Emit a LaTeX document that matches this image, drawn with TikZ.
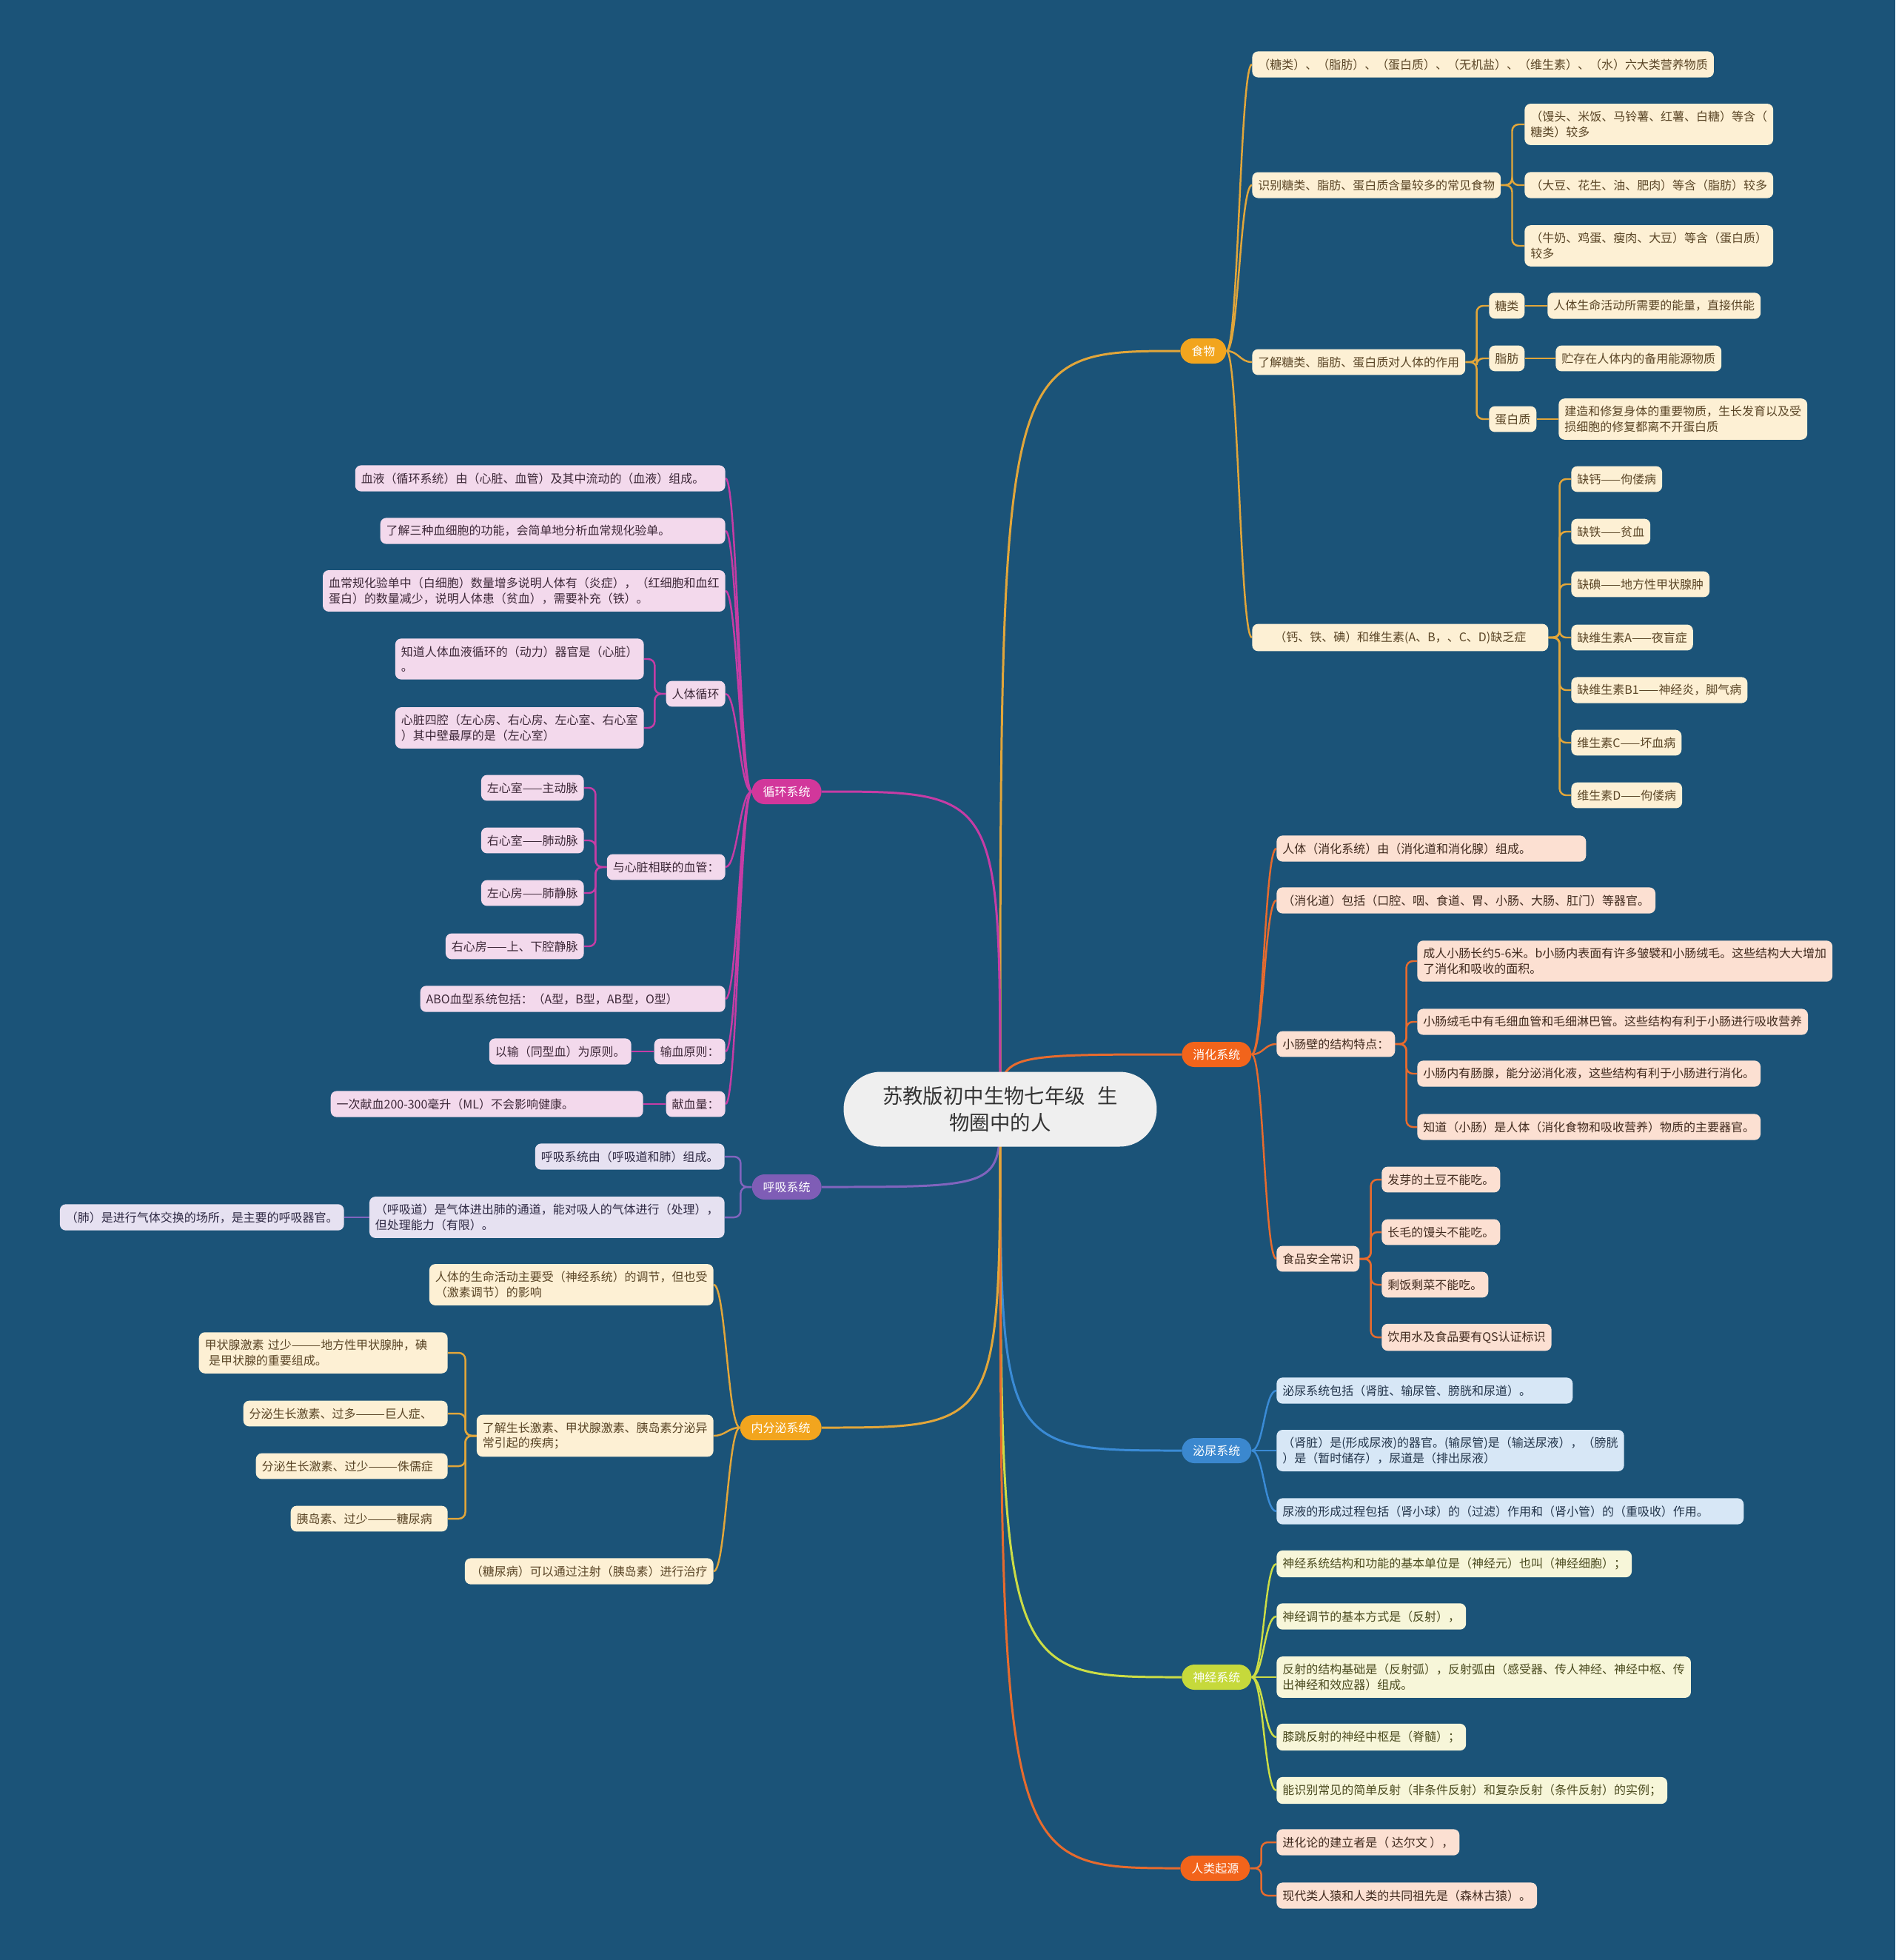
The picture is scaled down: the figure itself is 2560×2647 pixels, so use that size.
\documentclass[tikz,border=0pt]{standalone}
\usepackage{fontspec}
\setmainfont{Noto Sans CJK SC}
\usepackage{xcolor}
\usepackage{tikz}
\pgfdeclarelayer{back}
\pgfdeclarelayer{bg}
\pgfsetlayers{back,bg,main}

\definecolor{bgblue}{HTML}{1B5378}
\definecolor{rootfill}{HTML}{EFEFEF}
\definecolor{roottext}{HTML}{333333}
\definecolor{fdpill}{HTML}{F2A51E}
\definecolor{fdline}{HTML}{E2A63A}
\definecolor{fdfill}{HTML}{FDF0D4}
\definecolor{fdtext}{HTML}{5A4526}
\definecolor{dgpill}{HTML}{F2641B}
\definecolor{dgline}{HTML}{E76B2E}
\definecolor{dgfill}{HTML}{FCE0D2}
\definecolor{dgtext}{HTML}{402A1E}
\definecolor{urpill}{HTML}{3B88CF}
\definecolor{urline}{HTML}{3A8BD6}
\definecolor{urfill}{HTML}{D7E7F6}
\definecolor{urtext}{HTML}{22344A}
\definecolor{nvpill}{HTML}{C6D93B}
\definecolor{nvline}{HTML}{CCDD45}
\definecolor{nvfill}{HTML}{F7F6D9}
\definecolor{nvtext}{HTML}{4A4A1E}
\definecolor{cspill}{HTML}{D2379B}
\definecolor{csline}{HTML}{C63CA5}
\definecolor{csfill}{HTML}{F3D9EC}
\definecolor{cstext}{HTML}{3D2838}
\definecolor{rspill}{HTML}{7F5DB6}
\definecolor{rsline}{HTML}{8164BE}
\definecolor{rsfill}{HTML}{E6E1F1}
\definecolor{rstext}{HTML}{2F2A44}

\begin{document}
\begin{tikzpicture}[x=0.02cm, y=-0.02cm,
    every node/.style={font=\fontsize{9.1pt}{11.7pt}\selectfont},
    leaf/.style={rounded corners=0.16cm, inner xsep=0.16cm, inner ysep=0.2cm, align=left},
    rleaf/.style={leaf, anchor=west},
    lleaf/.style={leaf, anchor=east},
    pill/.style={rounded corners=0.34cm, minimum height=0.68cm, inner xsep=0.3cm, text=white},
    rootbox/.style={fill=rootfill, text=roottext, rounded corners=1cm, minimum width=8.46cm,
        minimum height=2.02cm, align=center, font=\fontsize{15.6pt}{20.9pt}\selectfont},
    fdbox/.style={fill=fdfill, text=fdtext},
    dgbox/.style={fill=dgfill, text=dgtext},
    urbox/.style={fill=urfill, text=urtext},
    nvbox/.style={fill=nvfill, text=nvtext},
    csbox/.style={fill=csfill, text=cstext},
    rsbox/.style={fill=rsfill, text=rstext},
    rootln/.style={line width=1.7pt},
    fdln/.style={draw=fdline, line width=1.4pt},
    dgln/.style={draw=dgline, line width=1.4pt},
    urln/.style={draw=urline, line width=1.4pt},
    nvln/.style={draw=nvline, line width=1.4pt},
    csln/.style={draw=csline, line width=1.4pt},
    rsln/.style={draw=rsline, line width=1.4pt},
    brk/.style={rounded corners=5pt}]

    \begin{pgfonlayer}{back}
    \fill[bgblue] (0,0) rectangle (2560,2647);
    \end{pgfonlayer}

    \node[rootbox] (root) at (1351,1498) {苏教版初中生物七年级\hspace{0.6em}生\\物圈中的人};

    % right side
    \node[pill, fill=fdpill, anchor=west] (fd) at (1594,474) {食物};
    \node[pill, fill=dgpill, anchor=west] (dg) at (1596,1424) {消化系统};
    \node[pill, fill=urpill, anchor=west] (ur) at (1596,1959) {泌尿系统};
    \node[pill, fill=nvpill, anchor=west] (nv) at (1596,2265) {神经系统};
    \node[pill, fill=dgpill, anchor=west] (og) at (1594,2523) {人类起源};

    % left side
    \node[pill, fill=cspill, anchor=east] (cs) at (1110,1069) {循环系统};
    \node[pill, fill=rspill, anchor=east] (rs) at (1110,1603) {呼吸系统};
    \node[pill, fill=fdpill, anchor=east] (es) at (1110,1928) {内分泌系统};

    \node[rleaf, fdbox] (fd1) at (1691,87) {（糖类）、（脂肪）、（蛋白质）、（无机盐）、（维生素）、（水）六大类营养物质};
    \node[rleaf, fdbox] (fd2) at (1691,250) {识别糖类、脂肪、蛋白质含量较多的常见食物};
    \node[rleaf, fdbox] (fd21) at (2059,168) {（馒头、米饭、马铃薯、红薯、白糖）等含（\\糖类）较多};
    \node[rleaf, fdbox] (fd22) at (2059,250) {（大豆、花生、油、肥肉）等含（脂肪）较多};
    \node[rleaf, fdbox] (fd23) at (2059,332) {（牛奶、鸡蛋、瘦肉、大豆）等含（蛋白质）\\较多};
    \node[rleaf, fdbox] (fd3) at (1691,489) {了解糖类、脂肪、蛋白质对人体的作用};
    \node[rleaf, fdbox] (fd31) at (2011,413) {糖类};
    \node[rleaf, fdbox] (fd311) at (2090,413) {人体生命活动所需要的能量，直接供能};
    \node[rleaf, fdbox] (fd32) at (2011,484) {脂肪};
    \node[rleaf, fdbox] (fd321) at (2101,484) {贮存在人体内的备用能源物质};
    \node[rleaf, fdbox] (fd33) at (2011,566) {蛋白质};
    \node[rleaf, fdbox] (fd331) at (2105,566) {建造和修复身体的重要物质，生长发育以及受\\损细胞的修复都离不开蛋白质};
    \node[rleaf, fdbox, minimum width=8cm] (fd4) at (1691,861) {（钙、铁、碘）和维生素(A、B，、C、D)缺乏症};
    \node[rleaf, fdbox] (fd41) at (2122,647) {缺钙——佝偻病};
    \node[rleaf, fdbox] (fd42) at (2122,718) {缺铁——贫血};
    \node[rleaf, fdbox] (fd43) at (2122,789) {缺碘——地方性甲状腺肿};
    \node[rleaf, fdbox] (fd44) at (2122,861) {缺维生素A——夜盲症};
    \node[rleaf, fdbox] (fd45) at (2122,932) {缺维生素B1——神经炎，脚气病};
    \node[rleaf, fdbox] (fd46) at (2122,1003) {维生素C——坏血病};
    \node[rleaf, fdbox] (fd47) at (2122,1074) {维生素D——佝偻病};

    \node[rleaf, dgbox, text width=8.04cm] (dg1) at (1724,1146) {人体（消化系统）由（消化道和消化腺）组成。};
    \node[rleaf, dgbox] (dg2) at (1724,1216) {（消化道）包括（口腔、咽、食道、胃、小肠、大肠、肛门）等器官。};
    \node[rleaf, dgbox] (dg3) at (1724,1410) {小肠壁的结构特点：};
    \node[rleaf, dgbox] (dg31) at (1914,1298) {成人小肠长约5-6米。b小肠内表面有许多皱襞和小肠绒毛。这些结构大大增加\\了消化和吸收的面积。};
    \node[rleaf, dgbox] (dg32) at (1914,1380) {小肠绒毛中有毛细血管和毛细淋巴管。这些结构有利于小肠进行吸收营养};
    \node[rleaf, dgbox] (dg33) at (1914,1450) {小肠内有肠腺，能分泌消化液，这些结构有利于小肠进行消化。};
    \node[rleaf, dgbox] (dg34) at (1914,1522) {知道（小肠）是人体（消化食物和吸收营养）物质的主要器官。};
    \node[rleaf, dgbox] (dg4) at (1724,1700) {食品安全常识};
    \node[rleaf, dgbox] (dg41) at (1866,1593) {发芽的土豆不能吃。};
    \node[rleaf, dgbox] (dg42) at (1866,1664) {长毛的馒头不能吃。};
    \node[rleaf, dgbox] (dg43) at (1866,1735) {剩饭剩菜不能吃。};
    \node[rleaf, dgbox] (dg44) at (1866,1806) {饮用水及食品要有QS认证标识};

    \node[rleaf, urbox, text width=7.68cm] (ur1) at (1724,1878) {泌尿系统包括（肾脏、输尿管、膀胱和尿道）。};
    \node[rleaf, urbox] (ur2) at (1724,1959) {（肾脏）是(形成尿液)的器官。(输尿管)是（输送尿液），（膀胱\\）是（暂时储存），尿道是（排出尿液）};
    \node[rleaf, urbox, text width=12.3cm] (ur3) at (1724,2041) {尿液的形成过程包括（肾小球）的（过滤）作用和（肾小管）的（重吸收）作用。};

    \node[rleaf, nvbox] (nv1) at (1724,2112) {神经系统结构和功能的基本单位是（神经元）也叫（神经细胞）；};
    \node[rleaf, nvbox] (nv2) at (1724,2183) {神经调节的基本方式是（反射），};
    \node[rleaf, nvbox] (nv3) at (1724,2265) {反射的结构基础是（反射弧），反射弧由（感受器、传人神经、神经中枢、传\\出神经和效应器）组成。};
    \node[rleaf, nvbox] (nv4) at (1724,2346) {膝跳反射的神经中枢是（脊髓）；};
    \node[rleaf, nvbox] (nv5) at (1724,2418) {能识别常见的简单反射（非条件反射）和复杂反射（条件反射）的实例；};

    \node[rleaf, dgbox] (og1) at (1724,2488) {进化论的建立者是（ 达尔文 ），};
    \node[rleaf, dgbox] (og2) at (1724,2560) {现代类人猿和人类的共同祖先是（森林古猿）。};

    \node[lleaf, csbox, text width=9.68cm] (cs1) at (980,646) {血液（循环系统）由（心脏、血管）及其中流动的（血液）组成。};
    \node[lleaf, csbox, text width=9.0cm] (cs2) at (980,717) {了解三种血细胞的功能，会简单地分析血常规化验单。};
    \node[lleaf, csbox] (cs3) at (980,798) {血常规化验单中（白细胞）数量增多说明人体有（炎症），（红细胞和血红\\蛋白）的数量减少，说明人体患（贫血），需要补充（铁）。};
    \node[lleaf, csbox] (cs4) at (980,937) {人体循环};
    \node[lleaf, csbox] (cs41) at (870,890) {知道人体血液循环的（动力）器官是（心脏）\\。};
    \node[lleaf, csbox] (cs42) at (870,983) {心脏四腔（左心房、右心房、左心室、右心室\\）其中壁最厚的是（左心室）};
    \node[lleaf, csbox] (cs5) at (980,1171) {与心脏相联的血管：};
    \node[lleaf, csbox] (cs51) at (789,1064) {左心室——主动脉};
    \node[lleaf, csbox] (cs52) at (789,1135) {右心室——肺动脉};
    \node[lleaf, csbox] (cs53) at (789,1206) {左心房——肺静脉};
    \node[lleaf, csbox] (cs54) at (789,1278) {右心房——上、下腔静脉};
    \node[lleaf, csbox, text width=7.92cm] (cs6) at (980,1349) {ABO血型系统包括：（A型，B型，AB型，O型）};
    \node[lleaf, csbox] (cs7) at (980,1420) {输血原则：};
    \node[lleaf, csbox] (cs71) at (853,1420) {以输（同型血）为原则。};
    \node[lleaf, csbox] (cs8) at (980,1491) {献血量：};
    \node[lleaf, csbox, text width=8.12cm] (cs81) at (869,1491) {一次献血200-300毫升（ML）不会影响健康。};

    \node[lleaf, rsbox] (rs1) at (979,1562) {呼吸系统由（呼吸道和肺）组成。};
    \node[lleaf, rsbox] (rs2) at (979,1644) {（呼吸道）是气体进出肺的通道，能对吸人的气体进行（处理），\\但处理能力（有限）。};
    \node[lleaf, rsbox] (rs21) at (465,1644) {（肺）是进行气体交换的场所，是主要的呼吸器官。};

    \node[lleaf, fdbox] (es1) at (964,1735) {人体的生命活动主要受（神经系统）的调节，但也受\\（激素调节）的影响};
    \node[lleaf, fdbox] (es2) at (964,1939) {了解生长激素、甲状腺激素、胰岛素分泌异\\常引起的疾病；};
    \node[lleaf, fdbox, text width=6.4cm] (es21) at (605,1827) {甲状腺激素\ 过少———地方性甲状腺肿，碘\\\ 是甲状腺的重要组成。};
    \node[lleaf, fdbox, text width=5.2cm] (es22) at (605,1909) {分泌生长激素、过多———巨人症、};
    \node[lleaf, fdbox, text width=4.86cm] (es23) at (605,1980) {分泌生长激素、过少———侏儒症};
    \node[lleaf, fdbox, text width=3.92cm] (es24) at (605,2051) {胰岛素、过少———糖尿病};
    \node[lleaf, fdbox] (es3) at (964,2122) {（糖尿病）可以通过注射（胰岛素）进行治疗};

    \begin{pgfonlayer}{bg}
    \draw[fdln, rootln] (root.center) .. controls (root.center |- fd.west) and (root.center |- fd.west) .. (fd.west);
    \draw[dgln, rootln] (root.center) .. controls (root.center |- dg.west) and (root.center |- dg.west) .. (dg.west);
    \draw[urln, rootln] (root.center) .. controls (root.center |- ur.west) and (root.center |- ur.west) .. (ur.west);
    \draw[nvln, rootln] (root.center) .. controls (root.center |- nv.west) and (root.center |- nv.west) .. (nv.west);
    \draw[dgln, rootln] (root.center) .. controls (root.center |- og.west) and (root.center |- og.west) .. (og.west);
    \draw[csln, rootln] (root.center) .. controls (root.center |- cs.east) and (root.center |- cs.east) .. (cs.east);
    \draw[rsln, rootln] (root.center) .. controls (root.center |- rs.east) and (root.center |- rs.east) .. (rs.east);
    \draw[fdln, rootln] (root.center) .. controls (root.center |- es.east) and (root.center |- es.east) .. (es.east);

    \foreach \c in {fd1,fd2,fd3,fd4}
        \draw[fdln] (fd.east) .. controls +(16,0) and +(-16,0) .. (\c.west);
    \foreach \c in {fd21,fd22,fd23}
        \draw[fdln, brk] (fd2.east) -- ++(15,0) |- (\c.west);
    \foreach \c in {fd31,fd32,fd33}
        \draw[fdln, brk] (fd3.east) -- ++(15,0) |- (\c.west);
    \foreach \c in {fd41,fd42,fd43,fd44,fd45,fd46,fd47}
        \draw[fdln, brk] (fd4.east) -- ++(15,0) |- (\c.west);
    \draw[fdln] (fd31.east) -- (fd311.west);
    \draw[fdln] (fd32.east) -- (fd321.west);
    \draw[fdln] (fd33.east) -- (fd331.west);

    \foreach \c in {dg1,dg2,dg3,dg4}
        \draw[dgln] (dg.east) .. controls +(16,0) and +(-16,0) .. (\c.west);
    \foreach \c in {dg31,dg32,dg33,dg34}
        \draw[dgln, brk] (dg3.east) -- ++(15,0) |- (\c.west);
    \foreach \c in {dg41,dg42,dg43,dg44}
        \draw[dgln, brk] (dg4.east) -- ++(15,0) |- (\c.west);

    \foreach \c in {ur1,ur2,ur3}
        \draw[urln] (ur.east) .. controls +(16,0) and +(-16,0) .. (\c.west);
    \foreach \c in {nv1,nv2,nv3,nv4,nv5}
        \draw[nvln] (nv.east) .. controls +(16,0) and +(-16,0) .. (\c.west);
    \foreach \c in {og1,og2}
        \draw[dgln, brk] (og.east) -- ++(15,0) |- (\c.west);

    \foreach \c in {cs1,cs2,cs3,cs4,cs5,cs6,cs7,cs8}
        \draw[csln] (cs.west) .. controls +(-16,0) and +(16,0) .. (\c.east);
    \foreach \c in {cs41,cs42}
        \draw[csln, brk] (cs4.west) -- ++(-15,0) |- (\c.east);
    \foreach \c in {cs51,cs52,cs53,cs54}
        \draw[csln, brk] (cs5.west) -- ++(-15,0) |- (\c.east);
    \draw[csln] (cs7.west) -- (cs71.east);
    \draw[csln] (cs8.west) -- (cs81.east);

    \foreach \c in {rs1,rs2}
        \draw[rsln, brk] (rs.west) -- ++(-15,0) |- (\c.east);
    \draw[rsln] (rs2.west) -- (rs21.east);

    \foreach \c in {es1,es2,es3}
        \draw[fdln] (es.west) .. controls +(-16,0) and +(16,0) .. (\c.east);
    \foreach \c in {es21,es22,es23,es24}
        \draw[fdln, brk] (es2.west) -- ++(-15,0) |- (\c.east);
    \end{pgfonlayer}
\end{tikzpicture}
\end{document}
